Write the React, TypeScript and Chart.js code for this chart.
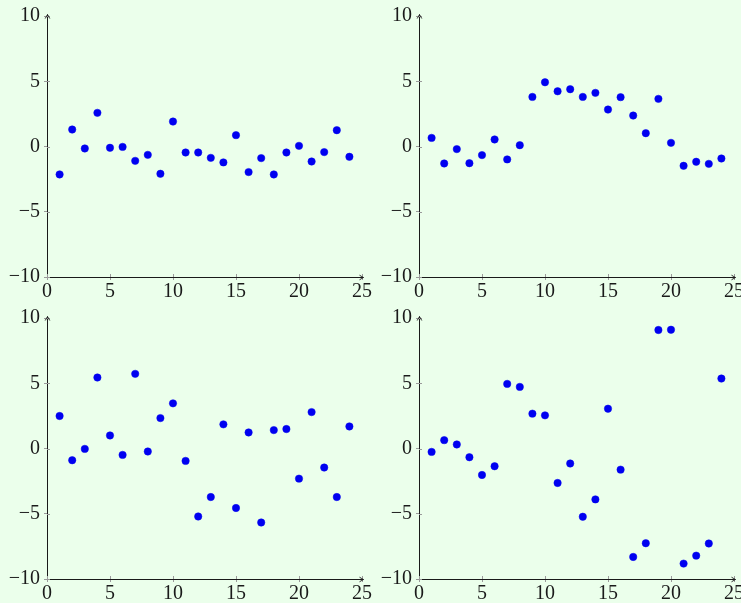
import React, { useEffect, useRef } from "react";
import { Chart, registerables } from "chart.js";

Chart.register(...registerables);

// ---- data ----
const xValues = [1, 2, 3, 4, 5, 6, 7, 8, 9, 10, 11, 12, 13, 14, 15, 16, 17, 18, 19, 20, 21, 22, 23, 24];

const seriesTopLeft = [
  -2.14, 1.3, -0.15, 2.58, -0.1, -0.03, -1.1, -0.64, -2.09, 1.91, -0.46, -0.46,
  -0.87, -1.22, 0.87, -1.96, -0.89, -2.14, -0.46, 0.05, -1.15, -0.43, 1.25, -0.79,
];
const seriesTopRight = [
  0.66, -1.3, -0.2, -1.28, -0.66, 0.54, -0.99, 0.1, 3.8, 4.92, 4.23, 4.39,
  3.8, 4.11, 2.83, 3.78, 2.37, 1.02, 3.65, 0.28, -1.48, -1.17, -1.33, -0.92,
];
const seriesBottomLeft = [
  2.49, -0.9, -0.03, 5.44, 1.0, -0.49, 5.72, -0.23, 2.33, 3.46, -0.95, -5.21,
  -3.72, 1.85, -4.56, 1.23, -5.67, 1.41, 1.49, -2.31, 2.79, -1.46, -3.72, 1.69,
];
const seriesBottomRight = [
  -0.26, 0.64, 0.31, -0.67, -2.03, -1.36, 4.95, 4.72, 2.67, 2.54, -2.64, -1.15,
  -5.23, -3.9, 3.05, -1.62, -8.31, -7.26, 9.08, 9.1, -8.82, -8.21, -7.28, 5.36,
];

const xTicks = [0, 5, 10, 15, 20, 25];
const yTicks = [-10, -5, 0, 5, 10];

// ---- layout ----
const CANVAS_W = 420;
const CANVAS_H = 320;
const AREA_LEFT = 60;
const AREA_TOP = 30;
const AREA_W = 315;
const AREA_H = 261;

const panels = [
  { values: seriesTopLeft, left: 47 - AREA_LEFT, top: 16 - AREA_TOP },
  { values: seriesTopRight, left: 419 - AREA_LEFT, top: 16 - AREA_TOP },
  { values: seriesBottomLeft, left: 47 - AREA_LEFT, top: 318 - AREA_TOP },
  { values: seriesBottomRight, left: 419 - AREA_LEFT, top: 318 - AREA_TOP },
];

const BG = "rgb(235,255,235)";
const AXIS_COLOR = "#1a1a1a";
const TICK_COLOR = "#9a9a9a";
const POINT_COLOR = "#0000f0";
const FONT_FAMILY = "'Liberation Serif', serif";
const FONT_SIZE = 20;

const fmt = (v: number) => (v < 0 ? "\u2212" + Math.abs(v) : String(v));

const axisDecor = {
  id: "axisDecor",
  afterDraw(chart: any) {
    const { ctx, chartArea } = chart;
    const { left, right, top, bottom } = chartArea;
    const xs = chart.scales.x;
    const ys = chart.scales.y;
    ctx.save();
    ctx.lineWidth = 1;
    ctx.strokeStyle = TICK_COLOR;
    ctx.beginPath();
    xs.ticks.forEach((t: any) => {
      const px = Math.round(xs.getPixelForValue(t.value)) + 0.5;
      ctx.moveTo(px, Math.round(bottom));
      ctx.lineTo(px, Math.round(bottom) - 3);
    });
    ys.ticks.forEach((t: any) => {
      const py = Math.round(ys.getPixelForValue(t.value)) + 0.5;
      ctx.moveTo(Math.round(left), py);
      ctx.lineTo(Math.round(left) + 3, py);
    });
    ctx.stroke();

    // arrows
    ctx.strokeStyle = AXIS_COLOR;
    ctx.lineWidth = 0.9;
    const ax = Math.round(left) + 0.5;
    const ay = Math.round(bottom) + 0.5;
    ctx.beginPath();
    ctx.moveTo(ax, top);
    ctx.lineTo(ax, top - 1.5);
    ctx.moveTo(ax - 2.3, top + 2.5);
    ctx.quadraticCurveTo(ax - 0.6, top - 0.3, ax, top - 1.5);
    ctx.quadraticCurveTo(ax + 0.6, top - 0.3, ax + 2.3, top + 2.5);
    ctx.moveTo(right, ay);
    ctx.lineTo(right + 1.5, ay);
    ctx.moveTo(right - 2.5, ay - 2.3);
    ctx.quadraticCurveTo(right + 0.3, ay - 0.6, right + 1.5, ay);
    ctx.quadraticCurveTo(right + 0.3, ay + 0.6, right - 2.5, ay + 2.3);
    ctx.stroke();
    ctx.restore();
  },
};

function Panel({ values, left, top }: { values: number[]; left: number; top: number }) {
  const ref = useRef<HTMLCanvasElement>(null);
  useEffect(() => {
    if (!ref.current) return;
    const chart = new Chart(ref.current, {
      type: "scatter",
      data: {
        datasets: [
          {
            data: xValues.map((x, i) => ({ x, y: values[i] })),
            backgroundColor: POINT_COLOR,
            borderColor: POINT_COLOR,
            pointRadius: 3.7,
            pointBorderWidth: 0.5,
            pointHoverRadius: 3.7,
          },
        ],
      },
      options: {
        animation: false,
        responsive: false,
        devicePixelRatio: 1,
        events: [],
        layout: {
          padding: {
            left: 0,
            top: AREA_TOP,
            right: CANVAS_W - AREA_LEFT - AREA_W,
            bottom: 0,
          },
        },
        plugins: {
          legend: { display: false },
          tooltip: { enabled: false },
        },
        scales: {
          x: {
            type: "linear",
            min: 0,
            max: 25,
            afterFit: (s: any) => {
              s.height = CANVAS_H - AREA_TOP - AREA_H;
            },
            afterBuildTicks: (s: any) => {
              s.ticks = xTicks.map((v) => ({ value: v }));
            },
            ticks: {
              autoSkip: false,
              maxRotation: 0,
              padding: 0,
              color: "#1a1a1a",
              font: { family: FONT_FAMILY, size: FONT_SIZE },
              callback: (v: any) => fmt(Number(v)),
            },
            grid: {
              drawOnChartArea: false,
              drawTicks: true,
              tickLength: 3,
              color: TICK_COLOR,
            },
            border: { display: true, color: AXIS_COLOR, width: 1 },
          },
          y: {
            type: "linear",
            min: -10,
            max: 10,
            afterFit: (s: any) => {
              s.width = AREA_LEFT;
            },
            afterBuildTicks: (s: any) => {
              s.ticks = yTicks.map((v) => ({ value: v }));
            },
            ticks: {
              autoSkip: false,
              padding: 4,
              color: "#1a1a1a",
              font: { family: FONT_FAMILY, size: FONT_SIZE },
              callback: (v: any) => fmt(Number(v)),
            },
            grid: {
              drawOnChartArea: false,
              drawTicks: true,
              tickLength: 3,
              color: TICK_COLOR,
            },
            border: { display: true, color: AXIS_COLOR, width: 1 },
          },
        },
      },
      plugins: [axisDecor],
    } as any);
    return () => chart.destroy();
  }, [values]);
  return (
    <canvas
      ref={ref}
      width={CANVAS_W}
      height={CANVAS_H}
      style={{ position: "absolute", left, top, width: CANVAS_W, height: CANVAS_H }}
    />
  );
}

export default function App() {
  return (
    <div
      style={{
        position: "absolute",
        left: 0,
        top: 0,
        width: 741,
        height: 603,
        overflow: "hidden",
        background: BG,
      }}
    >
      {panels.map((p, i) => (
        <Panel key={i} values={p.values} left={p.left} top={p.top} />
      ))}
    </div>
  );
}
